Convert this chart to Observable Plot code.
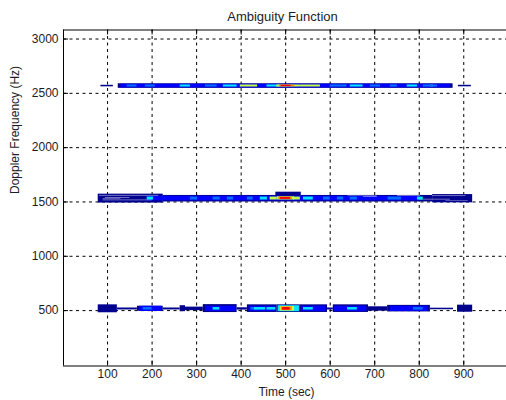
<!DOCTYPE html>
<html>
<head>
<meta charset="utf-8">
<script src="https://cdn.jsdelivr.net/npm/d3@7"></script>
<script src="https://cdn.jsdelivr.net/npm/@observablehq/plot@0.6"></script>
<style>
  html, body { margin: 0; padding: 0; background: #fff; overflow: hidden; }
  #chart svg { display: block; }
</style>
</head>
<body>
<div id="chart"></div>
<script>
// ---- Data ----
const titleText = "Ambiguity Function";
const xLabelText = "Time (sec)";
const yLabelText = "Doppler Frequency (Hz)";
const xTicks = [100, 200, 300, 400, 500, 600, 700, 800, 900];
const yTicks = [500, 1000, 1500, 2000, 2500, 3000];
const xDomain = [1, 996];
const yDomain = [-10, 3083];
// contour levels: 0 = gap, 1 = lowest ... 7 = peak
const levelValues = [0, 1, 2, 3, 4, 5, 6, 7];
const levelColors = ["#ffffff", "#00008f", "#0000ff", "#0070ff", "#00e8ff", "#c8ff40", "#ff9000", "#ff0000"];

// segments: [t1, t2, fLow, fHigh, level]
const bandHigh = [
  [85, 113, 2560, 2574, 1], [124, 876, 2546, 2588, 1], [888, 917, 2560, 2574, 1],
  [130, 870, 2551, 2583, 2],
  [144, 166, 2558, 2577, 3], [185, 207, 2558, 2577, 3], [263, 286, 2558, 2577, 4],
  [320, 346, 2558, 2577, 3], [360, 391, 2558, 2577, 4], [398, 437, 2558, 2577, 5],
  [458, 488, 2558, 2577, 4], [480, 533, 2558, 2577, 5], [486, 520, 2561, 2575, 6],
  [490, 512, 2562, 2574, 7], [533, 578, 2558, 2577, 5], [600, 638, 2558, 2577, 3],
  [645, 674, 2558, 2577, 4], [690, 713, 2558, 2577, 3], [735, 751, 2558, 2577, 3],
  [773, 796, 2558, 2577, 4], [809, 841, 2558, 2577, 3], [826, 832, 2560, 2575, 0]
];
const bandMid = [
  [79, 225, 1490, 1572, 1], [225, 480, 1500, 1560, 1], [478, 535, 1500, 1590, 1],
  [535, 830, 1500, 1560, 1], [830, 920, 1492, 1568, 1],
  [82, 215, 1556, 1560, 0], [95, 150, 1536, 1540, 0], [90, 200, 1512, 1516, 0],
  [90, 130, 1525, 1528, 0], [675, 706, 1546, 1550, 0], [640, 705, 1553, 1556, 0],
  [751, 803, 1555, 1559, 0], [800, 870, 1520, 1524, 0], [830, 905, 1550, 1554, 0],
  [860, 910, 1505, 1508, 0],
  [189, 800, 1510, 1552, 2],
  [189, 203, 1518, 1545, 4], [286, 302, 1518, 1545, 3], [337, 353, 1518, 1545, 3],
  [369, 383, 1518, 1545, 3], [414, 427, 1518, 1545, 3], [443, 459, 1518, 1545, 4],
  [465, 481, 1518, 1545, 5], [481, 520, 1518, 1548, 5], [485, 515, 1522, 1545, 6],
  [488, 511, 1524, 1542, 7], [517, 533, 1518, 1545, 5], [540, 562, 1518, 1545, 4],
  [585, 600, 1518, 1545, 3], [616, 630, 1518, 1545, 3], [645, 661, 1518, 1545, 3],
  [730, 760, 1518, 1545, 3], [796, 809, 1518, 1545, 4]
];
const bandLow = [
  [79, 122, 480, 553, 1], [122, 167, 506, 524, 1], [167, 225, 494, 540, 1],
  [225, 263, 506, 524, 1], [263, 275, 490, 545, 1], [275, 315, 500, 532, 1],
  [315, 391, 482, 555, 1], [391, 414, 505, 526, 1], [414, 481, 483, 553, 1],
  [481, 533, 483, 553, 1], [533, 594, 483, 553, 1], [594, 607, 506, 524, 1],
  [607, 686, 483, 553, 1], [686, 729, 495, 535, 1], [729, 825, 488, 548, 1],
  [825, 877, 508, 522, 1], [886, 920, 485, 550, 1],
  [172, 222, 492, 540, 2], [320, 388, 492, 540, 2], [418, 478, 492, 540, 2],
  [536, 590, 492, 540, 2], [610, 682, 492, 540, 2], [735, 820, 492, 540, 2],
  [180, 200, 505, 528, 3], [337, 352, 505, 528, 4], [422, 440, 505, 528, 3],
  [430, 455, 505, 528, 4], [458, 478, 505, 528, 4],
  [483, 531, 490, 545, 4], [488, 520, 496, 538, 5], [490, 515, 500, 534, 6], [493, 510, 504, 528, 7],
  [540, 562, 505, 528, 4], [639, 661, 505, 528, 4], [787, 809, 505, 528, 3]
];

// ---- Build table ----
const drawOrder = [1, 2, 0, 3, 4, 5, 6, 7];
const segments = [...bandHigh, ...bandMid, ...bandLow]
  .map(([t1, t2, f1, f2, level]) => ({t1, t2, f1, f2, level}))
  .sort((a, b) => drawOrder.indexOf(a.level) - drawOrder.indexOf(b.level));

const tickHz = (yDomain[1] - yDomain[0]) / 336 * 5;
const tickT = (xDomain[1] - xDomain[0]) / 443 * 5;
const ink = "#1c1c28";

const chart = Plot.plot({
  width: 506,
  height: 400,
  marginLeft: 63,
  marginRight: 0,
  marginTop: 29.5,
  marginBottom: 34.5,
  style: {fontFamily: "'Liberation Sans', Arial, sans-serif", fontSize: "12px", color: ink, background: "#fff"},
  x: {domain: xDomain},
  y: {domain: yDomain},
  color: {type: "ordinal", domain: levelValues, range: levelColors},
  marks: [
    // grid
    Plot.ruleX(xTicks, {stroke: "#000", strokeDasharray: "3,3.5", strokeWidth: 1}),
    Plot.ruleY(yTicks, {stroke: "#000", strokeDasharray: "3,3.5", strokeWidth: 1}),
    // inward tick marks
    Plot.ruleX(xTicks, {y1: yDomain[0], y2: yDomain[0] + tickHz, stroke: "#000"}),
    Plot.ruleX(xTicks, {y1: yDomain[1], y2: yDomain[1] - tickHz, stroke: "#000"}),
    Plot.ruleY(yTicks, {x1: xDomain[0], x2: xDomain[0] + tickT, stroke: "#000"}),
    // contour bands
    Plot.rect(segments, {x1: "t1", x2: "t2", y1: "f1", y2: "f2", fill: "level"}),
    // axes box (right side is cropped in the reference)
    Plot.ruleY([yDomain[0], yDomain[1]], {stroke: "#000"}),
    Plot.ruleX([xDomain[0]], {stroke: "#000"}),
    Plot.axisX(xTicks, {anchor: "bottom", tickSize: 0, tickPadding: 3, label: null, fill: ink, tickFormat: d => String(d)}),
    Plot.axisY(yTicks, {anchor: "left", tickSize: 0, tickPadding: 5, label: null, fill: ink, tickFormat: d => String(d)}),
    Plot.text([titleText], {frameAnchor: "top", dy: -18, dx: -2.5, fontSize: 13, fill: ink}),
    Plot.text([xLabelText], {frameAnchor: "bottom", dy: 30, dx: 1.5, fill: ink}),
    Plot.text([yLabelText], {frameAnchor: "left", rotate: -90, dx: -48, dy: -4, fill: ink})
  ]
});
document.getElementById("chart").appendChild(chart);
</script>
</body>
</html>
